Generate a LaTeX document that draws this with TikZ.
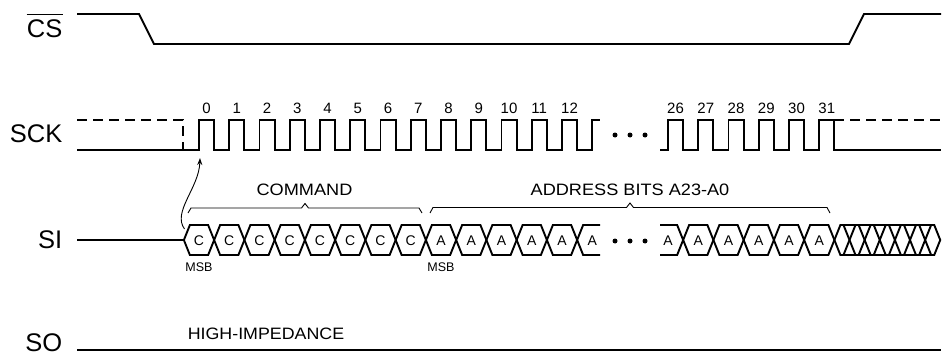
\documentclass[tikz,border=0pt]{standalone}
\usepackage{fontspec}
\usepackage{graphicx}
\setmainfont{Liberation Sans}
\usetikzlibrary{arrows.meta,calc}
\newcommand{\wx}[2][1.1]{\scalebox{#1}[1]{#2}}
\begin{document}
\begin{tikzpicture}[x=1pt,y=-1pt,
  sig/.style={line width=1.9pt, line join=miter},
  thinln/.style={line width=0.9pt},
  dashln/.style={line width=1.9pt, dash pattern=on 10pt off 6pt},
  big/.style={font=\fontsize{25.5}{28}\selectfont, inner sep=0pt, anchor=east},
  num/.style={font=\fontsize{15}{17}\selectfont, inner sep=0pt},
  lbl/.style={font=\fontsize{16.5}{19}\selectfont, inner sep=0pt},
  bit/.style={font=\fontsize{14}{16}\selectfont, inner sep=0pt},
  msb/.style={font=\fontsize{12.5}{14}\selectfont, inner sep=0pt},
  dotn/.style={circle, fill, inner sep=0pt, minimum size=5pt},
]
\useasboundingbox (0,0) rectangle (942,356);
\def\P{30.25}
\def\H{15.12}
\def\S{6}
% ---------- labels ----------
\node[big] (cs) at (62.5,28.5) {CS};
\draw[line width=1.3pt] ([yshift=5pt]cs.north west) -- ([yshift=5pt]cs.north east);
\node[big] (sck) at (62.5,134) {SCK};
\node[big] (si) at (62.5,240) {SI};
\node[big] (so) at (62.5,343) {SO};
% ---------- CS ----------
\draw[sig] (77,14) -- (139,14) -- (154,44) -- (849,44) -- (864,14) -- (941,14);
% ---------- SCK ----------
\draw[dashln] (77,120) -- (183,120) -- (183,150);
\draw[sig] (77,150) -- (199,150)
  \foreach \n in {0,...,12} { -- ({199+\n*\P},150) -- ({199+\n*\P},120) -- ({199+\n*\P+\H},120) -- ({199+\n*\P+\H},150) }
  -- ({199+13*\P},150) -- ({199+13*\P},120) -- (600,120);
\draw[sig] (660,150)
  \foreach \n in {26,...,31} { -- ({668+(\n-26)*\P},150) -- ({668+(\n-26)*\P},120) -- ({668+(\n-26)*\P+\H},120) -- ({668+(\n-26)*\P+\H},150) }
  -- (941,150);
\draw[dashln] ({668+5*\P+\H},120) -- (941,120);
\foreach \n in {0,...,12} \node[num] (k\n) at ({199+\n*\P+7.5},108) {\n};
\foreach \n in {26,...,31} \node[num] (k\n) at ({668+(\n-26)*\P+7.5},108) {\n};
\node[dotn] (d1) at (615,135) {};
\node[dotn] (d2) at (630,135) {};
\node[dotn] (d3) at (645,135) {};
% ---------- SI ----------
\draw[sig] (77,240) -- (183.875,240);
\foreach \k in {0,...,12} {
  \draw[sig] ({183.875+\k*\P},240) -- ({183.875+\k*\P+\S},225) -- ({183.875+(\k+1)*\P-\S},225)
     -- ({183.875+(\k+1)*\P},240) -- ({183.875+(\k+1)*\P-\S},255) -- ({183.875+\k*\P+\S},255) -- cycle;
}
\draw[sig] (600,225) -- ({183.875+13*\P+\S},225) -- ({183.875+13*\P},240) -- ({183.875+13*\P+\S},255) -- (600,255);
\draw[sig] (660,225) -- ({683.125-\S},225) -- (683.125,240) -- ({683.125-\S},255) -- (660,255);
\foreach \k in {0,...,4} {
  \draw[sig] ({683.125+\k*\P},240) -- ({683.125+\k*\P+\S},225) -- ({683.125+(\k+1)*\P-\S},225)
     -- ({683.125+(\k+1)*\P},240) -- ({683.125+(\k+1)*\P-\S},255) -- ({683.125+\k*\P+\S},255) -- cycle;
}
\foreach \j in {0,...,6} {
  \draw[sig] ({834.375+\j*15.125},240) -- ({834.375+\j*15.125+\S},225) -- ({834.375+(\j+1)*15.125-\S},225)
     -- ({834.375+(\j+1)*15.125},240) -- ({834.375+(\j+1)*15.125-\S},255) -- ({834.375+\j*15.125+\S},255) -- cycle;
}
\draw[sig] ({834.375+\S},225) -- ({940.25-\S},225);
\draw[sig] ({834.375+\S},255) -- ({940.25-\S},255);
\foreach \k in {0,...,7} \node[bit] (c\k) at ({199+\k*\P},241) {C};
\foreach \k in {8,...,13} \node[bit] (a\k) at ({199+\k*\P},241) {A};
\foreach \k in {26,...,31} \node[bit] (a\k) at ({668+(\k-26)*\P},241) {A};
\node[dotn] (e1) at (615,241) {};
\node[dotn] (e2) at (630,241) {};
\node[dotn] (e3) at (645,241) {};
\node[msb] (m1) at (199,267.5) {MSB};
\node[msb] (m2) at (441,267.5) {MSB};
% ---------- braces ----------
\draw[thinln] (188,213) -- (191,208) -- (301.5,208) -- (305,203.5) -- (308.5,208) -- (419,208) -- (422,213);
\draw[thinln] (430,213) -- (433,207.5) -- (626.5,207.5) -- (630,203) -- (633.5,207.5) -- (827,207.5) -- (830,213);
\node[lbl] (cmd) at (304.5,190) {\wx{COMMAND}};
\node[lbl] (adr) at (630,189.5) {\wx{ADDRESS BITS A23-A0}};
% ---------- arrow ----------
\coordinate (as) at (184.5,229);
\coordinate (ae) at (200,158);
\draw[thinln,-{Stealth[length=7pt,width=5pt]}] (as) .. controls (172,212) and (199,188) .. (ae);
% ---------- SO ----------
\draw[sig] (77,350) -- (941,350);
\node[lbl] (hi) at (266,333.5) {\wx[1.08]{HIGH-IMPEDANCE}};
\end{tikzpicture}
\end{document}
